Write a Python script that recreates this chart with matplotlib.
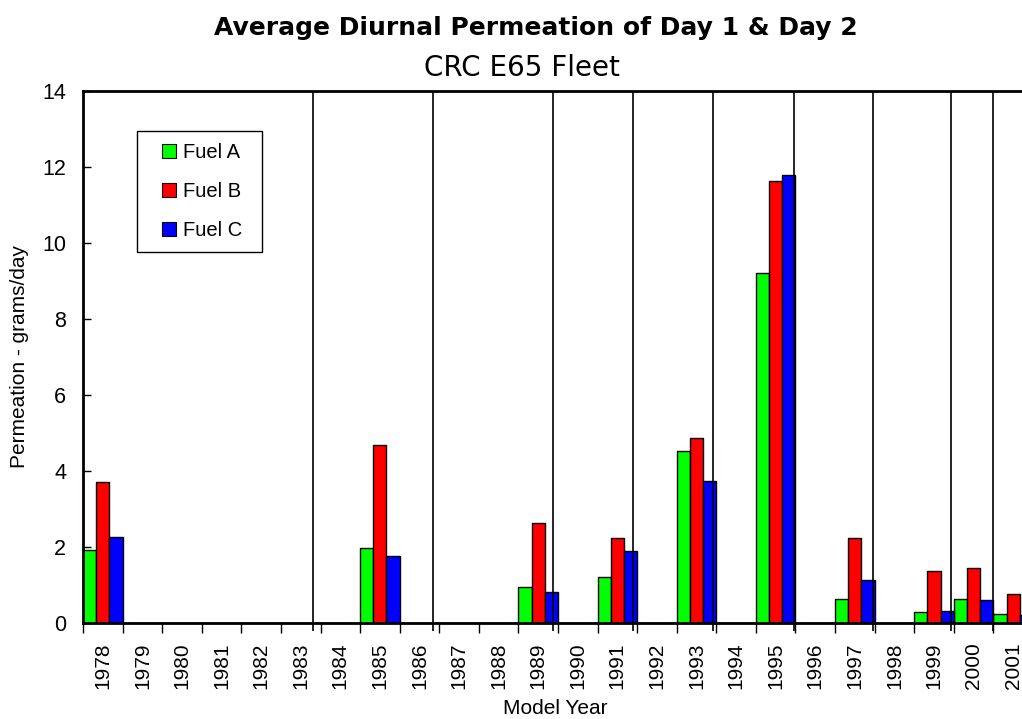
import matplotlib
matplotlib.use('Agg')
import matplotlib.pyplot as plt
from matplotlib.lines import Line2D
from matplotlib.ticker import NullFormatter
import numpy as np

plt.rcParams['font.family'] = ['Liberation Sans', 'DejaVu Sans']

years = ['1978', '1979', '1980', '1981', '1982', '1983', '1984', '1985',
         '1986', '1987', '1988', '1989', '1990', '1991', '1992', '1993',
         '1994', '1995', '1996', '1997', '1998', '1999', '2000', '2001']
fuel_a = [1.92, 0, 0, 0, 0, 0, 0, 1.97, 0, 0, 0, 0.94,
          0, 1.22, 0, 4.53, 0, 9.22, 0, 0.64, 0, 0.28, 0.64, 0.24]
fuel_b = [3.72, 0, 0, 0, 0, 0, 0, 4.68, 0, 0, 0, 2.63,
          0, 2.25, 0, 4.88, 0, 11.62, 0, 2.25, 0, 1.37, 1.44, 0.77]
fuel_c = [2.27, 0, 0, 0, 0, 0, 0, 1.77, 0, 0, 0, 0.81,
          0, 1.89, 0, 3.73, 0, 11.80, 0, 1.13, 0, 0.31, 0.60, 0.22]
series_names = ['Fuel A', 'Fuel B', 'Fuel C']
series_colors = ['#00ff00', '#ff0000', '#0000ff']
# vertical divider lines, in category units from the left edge
separators = [5.82, 8.84, 11.88, 13.90, 15.91, 17.95, 19.97, 21.93, 22.98]

W, H = 1022, 719
fig = plt.figure(figsize=(W / 100, H / 100), dpi=100)
# the plot area runs a little past the right edge of the image, as in the original
ax = fig.add_axes([83 / W, 96 / H, 950 / W, 532 / H])

x = np.arange(len(years))
bw = 1 / 3
for k, (vals, col, name) in enumerate(zip([fuel_a, fuel_b, fuel_c], series_colors, series_names)):
    ax.bar(x + k * bw, vals, width=bw, align='edge', color=col,
           edgecolor='black', linewidth=1.0, zorder=2)

ax.vlines(separators, -0.21, 14, colors='black', linewidth=1.2, clip_on=False, zorder=3)

ax.set_xlim(0, len(years))
ax.set_ylim(0, 14)
ax.set_yticks(range(0, 15, 2))
ax.tick_params(axis='y', direction='in', length=6, width=1, labelsize=15.5, pad=12)

ax.set_xticks(np.arange(len(years) + 1))
ax.xaxis.set_major_formatter(NullFormatter())
ax.set_xticks(x + 0.5, minor=True)
ax.set_xticklabels(years, minor=True, rotation=90)
ax.tick_params(axis='x', which='major', direction='out', length=7, width=1)
ax.tick_params(axis='x', which='minor', length=0, pad=14, labelsize=15)

for side in ['left', 'bottom', 'top']:
    ax.spines[side].set_linewidth(2)
ax.spines['right'].set_visible(False)

handles = [Line2D([], [], linestyle='none', marker='s', markersize=9.5,
                  markerfacecolor=c, markeredgecolor='black', markeredgewidth=0.8)
           for c in series_colors]
leg = ax.legend(handles, series_names, loc='upper left',
                bbox_to_anchor=(0.0568, 0.8248, 0.1316, 0.1), mode='expand',
                fontsize=14.5, frameon=True, fancybox=False, edgecolor='black',
                framealpha=1, handlelength=2.0, handletextpad=-0.3,
                labelspacing=1.0, borderpad=0.6, borderaxespad=0)
leg.get_frame().set_linewidth(1.0)

fig.text(536 / W, 1 - 28 / H, 'Average Diurnal Permeation of Day 1 & Day 2',
         ha='center', va='center', fontsize=18, fontweight='bold', family='DejaVu Sans')
fig.text(522 / W, 1 - 68 / H, 'CRC E65 Fleet', ha='center', va='center',
         fontsize=20, family='DejaVu Sans')
fig.text(20 / W, 1 - 357 / H, 'Permeation - grams/day', rotation=90,
         ha='center', va='center', fontsize=15)
fig.text(555 / W, 1 - 708 / H, 'Model Year', ha='center', va='center', fontsize=15)

fig.savefig('out.png', dpi=100)
